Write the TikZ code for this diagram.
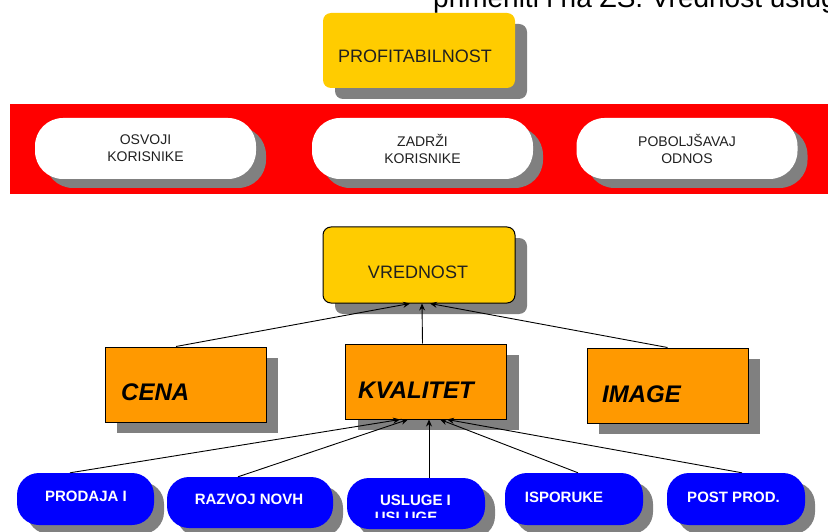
\documentclass[tikz,border=0pt]{standalone}
\usepackage{fontspec}
\setmainfont{Liberation Sans}
\usetikzlibrary{shadows,arrows.meta}
\definecolor{ylw}{HTML}{FFCC00}
\definecolor{org}{HTML}{FF9900}
\definecolor{shadowgray}{HTML}{808080}
\definecolor{bluefill}{HTML}{0000FF}
\definecolor{redband}{HTML}{FF0000}
\definecolor{textgray}{HTML}{202020}
\tikzset{
  shadowA/.style={drop shadow={shadow xshift=12pt,shadow yshift=-11pt,fill=shadowgray,opacity=1}},
  shadowP/.style={drop shadow={shadow xshift=10pt,shadow yshift=-9pt,fill=shadowgray,opacity=1}},
  yellowbox/.style={fill=ylw, rounded corners=8pt, minimum width=192pt, minimum height=75pt, inner sep=0pt, shadowA},
  orangebox/.style={fill=org, draw=black, line width=1pt, minimum width=161pt, minimum height=75pt, inner sep=0pt, shadowA},
  whitepill/.style={fill=white, rounded corners=28pt, minimum width=221pt, minimum height=61pt, inner sep=0pt, shadowP, align=center, text=textgray, font=\fontsize{14}{17}\selectfont},
  bluepill/.style={fill=bluefill, rounded corners=22pt, minimum height=52pt, minimum width=138pt, inner sep=0pt, shadowP},
  bluetext/.style={text=white, font=\bfseries\fontsize{15}{18}\selectfont, anchor=base, inner sep=0pt},
  yellowtext/.style={text=textgray, font=\fontsize{18}{21}\selectfont, anchor=base, inner sep=0pt},
  bigtext/.style={text=black, font=\bfseries\itshape\fontsize{24}{28}\selectfont, anchor=base west, inner sep=0pt},
  conn/.style={draw=black, line width=0.9pt, -{Stealth[length=7pt,width=6pt]}},
}
\begin{document}
\begin{tikzpicture}[x=1pt,y=-1pt]
\clip (0,0) rectangle (828,532);
\fill[white] (0,0) rectangle (828,532);

% top cut-off text
\node[anchor=base west, inner sep=0pt, font=\fontsize{28}{32}\selectfont] (toptext) at (433,8) {primeniti i na ZS. Vrednost usluga};

% profitability
\node[yellowbox] (prof) at (419,50.5) {};
\node[yellowtext] (proft) at (415,63) {PROFITABILNOST};

% red band
\fill[redband] (10,104) rectangle (828,194);
\node[whitepill] (w1) at (145.5,148.5) {OSVOJI\\KORISNIKE};
\node[whitepill] (w2) at (422.5,148.5) {ZADRŽI\\KORISNIKE};
\node[whitepill] (w3) at (687,148.5) {POBOLJŠAVAJ\\ODNOS};

% value
\node[yellowbox, draw=black, line width=1pt, minimum height=76pt, shadow xshift=13pt] (vred) at (419,265) {};
\node[yellowtext] (vredt) at (418,278) {VREDNOST};

% orange boxes
\node[orangebox] (cena) at (185.5,384.5) {};
\node[bigtext] (cenat) at (121,400) {CENA};
\node[orangebox] (kval) at (426,381.5) {};
\node[bigtext] (kvalt) at (358,398) {KVALITET};
\node[orangebox] (image) at (667.5,385.5) {};
\node[bigtext] (imaget) at (602,402) {IMAGE};

% blue pills
\node[bluepill, minimum width=137pt] (p1) at (85.5,499) {};
\node[bluetext] (p1t) at (86,501) {PRODAJA I};
\node[bluepill, minimum width=166pt, minimum height=51pt] (p2) at (250,502.5) {};
\node[bluetext] (p2t) at (249,504) {RAZVOJ NOVH};
\node[bluepill, minimum height=51pt] (p3) at (416,503.5) {};
\node[bluetext] (p3t) at (415.5,505) {USLUGE I};
\begin{scope}
\clip (340,470) rectangle (490,517);
\node[bluetext] (p3u) at (406,522) {USLUGE};
\end{scope}
\node[bluepill] (p4) at (574,499) {};
\node[bluetext] (p4t) at (564,502) {ISPORUKE};
\node[bluepill] (p5) at (736,499) {};
\node[bluetext] (p5t) at (733.5,502) {POST PROD.};

% connectors to VREDNOST
\draw[conn] ([xshift=-9.5pt]cena.north) -- ([xshift=-9pt]vred.south);
\draw[conn] ([xshift=-3.5pt]kval.north) -- ([xshift=3pt]vred.south);
\draw[conn] (image.north) -- ([xshift=11pt]vred.south);

% connectors to KVALITET
\draw[conn] ([xshift=-15.5pt]p1.north) -- ([xshift=-26pt]kval.south);
\draw[conn] ([xshift=-12pt]p2.north) -- ([xshift=-18pt]kval.south);
\draw[conn] ([xshift=13pt]p3.north) -- ([xshift=3pt]kval.south);
\draw[conn] ([xshift=4pt]p4.north) -- ([xshift=14pt]kval.south);
\draw[conn] ([xshift=6pt]p5.north) -- ([xshift=21pt]kval.south);
\end{tikzpicture}
\end{document}
